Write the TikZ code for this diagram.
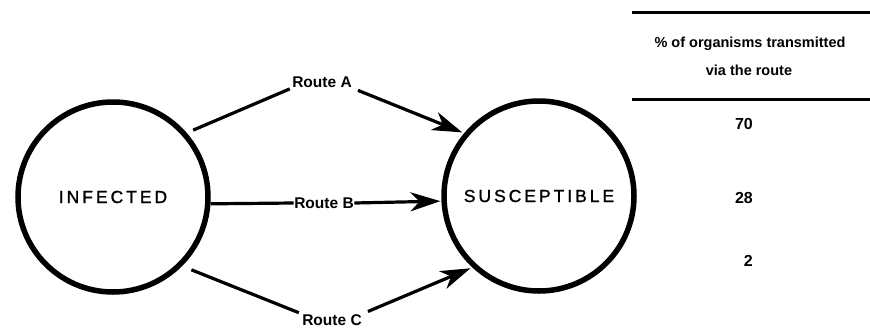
\documentclass[tikz,border=0pt]{standalone}
\usepackage{fontspec}
\setmainfont{Liberation Sans}
\newfontfamily\spacedfont[LetterSpace=17,FakeBold=1.2]{Liberation Sans}
\usetikzlibrary{arrows.meta}
\begin{document}
\begin{tikzpicture}[x=1pt,y=-1pt,
  state/.style={circle,draw,line width=5.5pt,minimum size=190pt,inner sep=0pt,
    font=\spacedfont\fontsize{17.5}{20}\selectfont},
  routelab/.style={inner sep=0.5pt,font=\bfseries\fontsize{15.5}{18}\selectfont},
  seg/.style={line width=3.2pt},
  arr/.style={line width=3.2pt,-{Stealth[length=30pt,width=19pt,inset=9pt]}},
  rule/.style={line width=3pt},
  hdr/.style={font=\bfseries\fontsize{14.5}{17}\selectfont,inner sep=0pt},
  num/.style={font=\bfseries\fontsize{16}{18}\selectfont,inner sep=0pt,anchor=east}]
\useasboundingbox (0,0) rectangle (870,330);
\node[state] (inf) at (113,197) {INFECTED};
\node[state] (sus) at (539,196) {SUSCEPTIBLE};
\node[routelab] (labA) at (322,82) {Route A};
\node[routelab] (labB) at (324,203) {Route B};
\node[routelab] (labC) at (332,320) {Route C};
% Route A
\draw[seg,shorten <=7pt,shorten >=2pt] (inf.41) -- (labA.south west);
\draw[arr,shorten <=6pt,shorten >=2pt] (labA.south east) -- (sus.140);
% Route B
\draw[seg] (inf.-4) -- (labB.west);
\draw[arr,shorten >=1pt] (labB.east) -- (sus.183.5);
% Route C
\draw[seg,shorten <=10pt,shorten >=3pt] (inf.-45) -- (labC.north west);
\draw[arr,shorten <=6pt,shorten >=2pt] (labC.north east) -- (sus.227);
% table
\coordinate (r1a) at (632,12);
\coordinate (r1b) at (870,12);
\coordinate (r2a) at (632,99);
\coordinate (r2b) at (870,99);
\draw[rule] (r1a) -- (r1b);
\draw[rule] (r2a) -- (r2b);
\node[hdr] (h1) at (750,44) {\% of organisms transmitted};
\node[hdr] (h2) at (749,70) {via the route};
\node[num] (n1) at (753,124) {70};
\node[num] (n2) at (753,198) {28};
\node[num] (n3) at (753,261) {2};
\end{tikzpicture}
\end{document}
